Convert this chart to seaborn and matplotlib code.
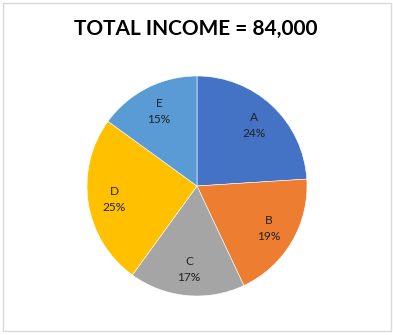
import matplotlib
matplotlib.use("Agg")
import matplotlib.pyplot as plt
import seaborn as sns
from matplotlib.patches import Rectangle

categories = ["A", "B", "C", "D", "E"]
shares = [24, 19, 17, 25, 15]
colors_hex = ["#4472C4", "#ED7D31", "#A5A5A5", "#FFC000", "#5B9BD5"]
title = "TOTAL INCOME = 84,000"

sns.set_style("white")
plt.rcParams['font.family'] = ['Lato', 'DejaVu Sans']
palette = sns.color_palette(colors_hex)

W, H = 393, 335
fig = plt.figure(figsize=(W / 100, H / 100), dpi=100)

cx, cy, r = 197, 186, 110
ax = fig.add_axes([(cx - r) / W, (H - cy - r) / H, 2 * r / W, 2 * r / H])
labels = [f"{c}\n{v}%" for c, v in zip(categories, shares)]
wedges, texts = ax.pie(shares, colors=palette, startangle=90, counterclock=False,
                       labels=labels, labeldistance=0.76,
                       wedgeprops=dict(linewidth=0.4, edgecolor="white"),
                       textprops=dict(fontsize=8.6, color="#222222", ha="center", va="center",
                                      linespacing=1.55))
for t in texts:
    t.set_horizontalalignment("center")
ax.set_xlim(-1, 1)
ax.set_ylim(-1, 1)
ax.set_aspect("equal")
ax.axis("off")

fig.text(196 / W, 1 - 29 / H, title, ha="center", va="center", fontsize=15,
         fontweight="bold", color="black")

fig.patches.append(Rectangle((3 / W, 4 / H), 388 / W, 328 / H, transform=fig.transFigure,
                             fill=False, edgecolor="#D9D9D9", linewidth=1.0))

fig.savefig("out.png", dpi=100)
